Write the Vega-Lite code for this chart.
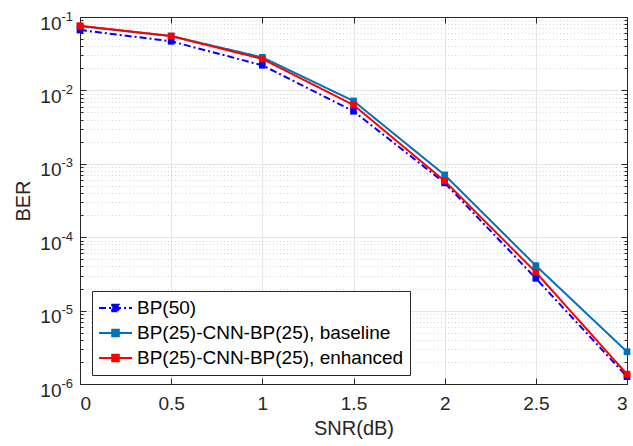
{
  "$schema": "https://vega.github.io/schema/vega-lite/v6.json",
  "autosize": {"type": "none"},
  "padding": {"left": 80, "top": 17, "right": 6, "bottom": 62},
  "width": 547,
  "height": 367,
  "background": "white",
  "config": {
    "font": "Liberation Sans",
    "view": {"stroke": null},
    "axis": {
      "labelFont": "Liberation Sans",
      "titleFont": "Liberation Sans",
      "labelColor": "#262626",
      "titleColor": "#262626",
      "domainColor": "#262626",
      "tickColor": "#262626",
      "labelFontSize": 19,
      "titleFontSize": 20,
      "titleFontWeight": "normal"
    },
    "legend": {
      "labelFont": "Liberation Sans",
      "labelFontSize": 19,
      "labelColor": "#000000"
    }
  },
  "data": {
    "values": [
      {"snr": 0, "ber": 0.0665, "series": "BP(50)"},
      {"snr": 0.5, "ber": 0.0467, "series": "BP(50)"},
      {"snr": 1, "ber": 0.022, "series": "BP(50)"},
      {"snr": 1.5, "ber": 0.0052, "series": "BP(50)"},
      {"snr": 2, "ber": 0.00055, "series": "BP(50)"},
      {"snr": 2.5, "ber": 0.0000275, "series": "BP(50)"},
      {"snr": 3, "ber": 0.00000126, "series": "BP(50)"},
      {"snr": 0, "ber": 0.075, "series": "BP(25)-CNN-BP(25), baseline"},
      {"snr": 0.5, "ber": 0.055, "series": "BP(25)-CNN-BP(25), baseline"},
      {"snr": 1, "ber": 0.0282, "series": "BP(25)-CNN-BP(25), baseline"},
      {"snr": 1.5, "ber": 0.00718, "series": "BP(25)-CNN-BP(25), baseline"},
      {"snr": 2, "ber": 0.000705, "series": "BP(25)-CNN-BP(25), baseline"},
      {"snr": 2.5, "ber": 0.000041, "series": "BP(25)-CNN-BP(25), baseline"},
      {"snr": 3, "ber": 0.00000275, "series": "BP(25)-CNN-BP(25), baseline"},
      {"snr": 0, "ber": 0.076, "series": "BP(25)-CNN-BP(25), enhanced"},
      {"snr": 0.5, "ber": 0.055, "series": "BP(25)-CNN-BP(25), enhanced"},
      {"snr": 1, "ber": 0.0268, "series": "BP(25)-CNN-BP(25), enhanced"},
      {"snr": 1.5, "ber": 0.00633, "series": "BP(25)-CNN-BP(25), enhanced"},
      {"snr": 2, "ber": 0.000583, "series": "BP(25)-CNN-BP(25), enhanced"},
      {"snr": 2.5, "ber": 0.0000333, "series": "BP(25)-CNN-BP(25), enhanced"},
      {"snr": 3, "ber": 0.00000136, "series": "BP(25)-CNN-BP(25), enhanced"}
    ]
  },
  "resolve": {"axis": {"x": "independent", "y": "independent"}},
  "layer": [
    {
      "mark": {"type": "point", "opacity": 0},
      "encoding": {
        "x": {"field": "snr", "type": "quantitative", "scale": {"domain": [0, 3], "nice": false, "zero": false},
          "axis": null},
        "y": {"field": "ber", "type": "quantitative", "scale": {"type": "log", "domain": [0.000001, 0.1], "nice": false},
          "axis": {"orient": "left", "values": [2e-6,3e-6,4e-6,5e-6,6e-6,7e-6,8e-6,9e-6,2e-5,3e-5,4e-5,5e-5,6e-5,7e-5,8e-5,9e-5,2e-4,3e-4,4e-4,5e-4,6e-4,7e-4,8e-4,9e-4,2e-3,3e-3,4e-3,5e-3,6e-3,7e-3,8e-3,9e-3,2e-2,3e-2,4e-2,5e-2,6e-2,7e-2,8e-2,9e-2],
            "labels": false, "domain": false, "title": null, "grid": true, "gridColor": "#d4d4d4", "gridDash": [1, 2.5], "gridWidth": 1, "ticks": true, "tickSize": -3}}
      }
    },
    {
      "mark": {"type": "point", "opacity": 0},
      "encoding": {
        "x": {"field": "snr", "type": "quantitative", "axis": null},
        "y": {"field": "ber", "type": "quantitative",
          "axis": {"orient": "right", "values": [2e-6,3e-6,4e-6,5e-6,6e-6,7e-6,8e-6,9e-6,2e-5,3e-5,4e-5,5e-5,6e-5,7e-5,8e-5,9e-5,2e-4,3e-4,4e-4,5e-4,6e-4,7e-4,8e-4,9e-4,2e-3,3e-3,4e-3,5e-3,6e-3,7e-3,8e-3,9e-3,2e-2,3e-2,4e-2,5e-2,6e-2,7e-2,8e-2,9e-2],
            "labels": false, "domain": false, "title": null, "grid": false, "ticks": true, "tickSize": -3}}
      }
    },
    {
      "mark": {"type": "point", "opacity": 0},
      "encoding": {
        "x": {"field": "snr", "type": "quantitative",
          "axis": {"orient": "top", "values": [0, 0.5, 1, 1.5, 2, 2.5, 3], "labels": false, "title": null, "grid": false, "ticks": true, "tickSize": -6, "domain": true, "domainWidth": 1}},
        "y": {"field": "ber", "type": "quantitative",
          "axis": {"orient": "right", "values": [0.000001, 0.00001, 0.0001, 0.001, 0.01, 0.1], "labels": false, "title": null, "grid": false, "ticks": true, "tickSize": -6, "domain": true, "domainWidth": 1}}
      }
    },
    {
      "mark": {"type": "point", "opacity": 0},
      "encoding": {
        "x": {"field": "snr", "type": "quantitative",
          "axis": {"orient": "bottom", "values": [0, 0.5, 1, 1.5, 2, 2.5, 3], "labels": false, "title": null, "grid": true, "gridColor": "#e6e6e6", "gridWidth": 1, "ticks": true, "tickSize": -6, "domain": true, "domainWidth": 1}},
        "y": {"field": "ber", "type": "quantitative",
          "axis": {"orient": "left", "values": [0.000001, 0.00001, 0.0001, 0.001, 0.01, 0.1], "labels": false, "title": null, "grid": true, "gridColor": "#e6e6e6", "gridWidth": 1, "ticks": true, "tickSize": -6, "domain": true, "domainWidth": 1}}
      }
    },
    {
      "mark": {"type": "point", "opacity": 0},
      "encoding": {
        "x": {"field": "snr", "type": "quantitative", "axis": null},
        "y": {"field": "ber", "type": "quantitative",
          "axis": {"orient": "left", "values": [0.000001, 0.00001, 0.0001, 0.001, 0.01, 0.1], "labelExpr": "'-' + toString(-round(log(datum.value) / LN10))", "labelFontSize": 13, "labelAlign": "left", "labelBaseline": "alphabetic", "labelOffset": 3, "labelPadding": 19, "title": null, "grid": false, "ticks": false, "tickSize": 0, "domain": false}}
      }
    },
    {
      "mark": {"type": "line", "strokeWidth": 2, "point": {"shape": "square", "filled": true, "size": 45, "opacity": 1}},
      "encoding": {
        "x": {"field": "snr", "type": "quantitative",
          "axis": {"orient": "bottom", "values": [0, 0.5, 1, 1.5, 2, 2.5, 3], "labelExpr": "datum.value + ''", "title": "SNR(dB)", "grid": false, "ticks": false, "tickSize": 0, "domain": false, "labelPadding": 10, "titlePadding": 5}},
        "y": {"field": "ber", "type": "quantitative",
          "axis": {"orient": "left", "values": [0.000001, 0.00001, 0.0001, 0.001, 0.01, 0.1], "labelExpr": "'10'", "labelAlign": "right", "labelBaseline": "alphabetic", "labelOffset": 12, "title": "BER", "grid": false, "ticks": false, "tickSize": 0, "domain": false, "labelPadding": 19, "titlePadding": 6}},
        "color": {"field": "series", "type": "nominal", "sort": null,
          "scale": {"domain": ["BP(50)", "BP(25)-CNN-BP(25), baseline", "BP(25)-CNN-BP(25), enhanced"], "range": ["#0000ff", "#0072bd", "#ff0000"]},
          "legend": {"title": null, "orient": "none", "legendX": 12, "legendY": 274, "fillColor": "white", "strokeColor": "#262626", "padding": 6, "clipHeight": 22, "symbolType": "M-1,0H1M-0.2,-0.2H0.2V0.2H-0.2Z", "symbolSize": 1089, "symbolStrokeWidth": 2, "labelOffset": 4, "rowPadding": 3, "labelLimit": 400}},
        "strokeDash": {"field": "series", "type": "nominal", "sort": null,
          "scale": {"domain": ["BP(50)", "BP(25)-CNN-BP(25), baseline", "BP(25)-CNN-BP(25), enhanced"], "range": [[7, 3, 2, 3], [1, 0], [1, 0]]},
          "legend": {"title": null, "orient": "none", "legendX": 12, "legendY": 274, "fillColor": "white", "strokeColor": "#262626", "padding": 6, "clipHeight": 22, "symbolType": "M-1,0H1M-0.2,-0.2H0.2V0.2H-0.2Z", "symbolSize": 1089, "symbolStrokeWidth": 2, "labelOffset": 4, "rowPadding": 3, "labelLimit": 400}}
      }
    }
  ]
}
